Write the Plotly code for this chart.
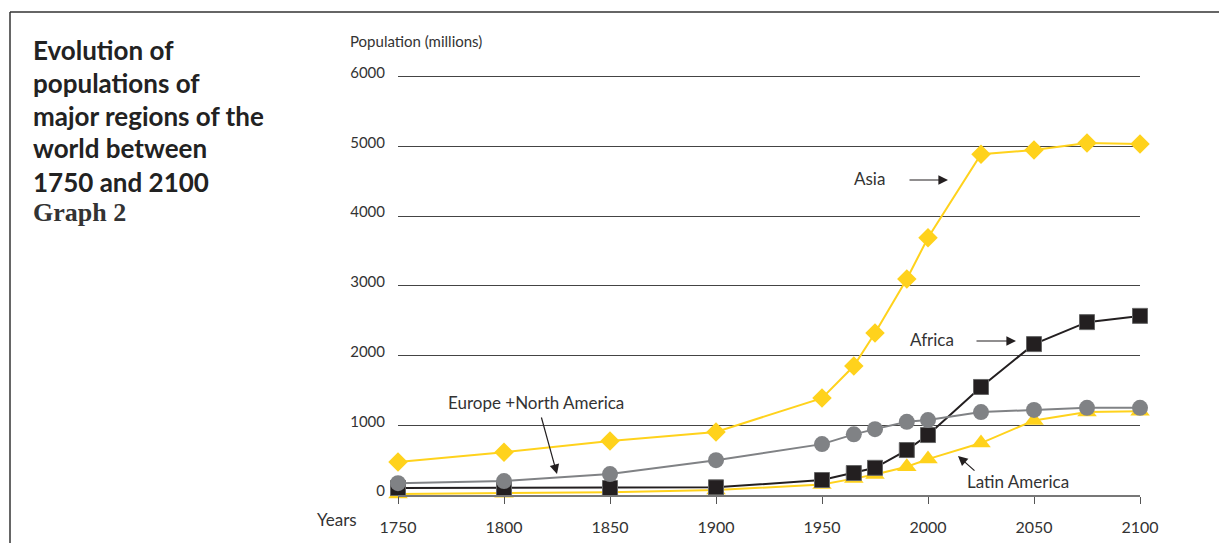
import plotly.graph_objects as go

# Population by major region, millions
years = [1750, 1800, 1850, 1900, 1950, 1965, 1975, 1990, 2000, 2025, 2050, 2075, 2100]
asia = [475, 615, 775, 905, 1390, 1850, 2325, 3100, 3690, 4890, 4950, 5050, 5035]
africa = [100, 100, 100, 110, 215, 315, 390, 645, 860, 1550, 2165, 2480, 2570]
europe_na = [170, 200, 300, 500, 730, 870, 945, 1050, 1075, 1190, 1220, 1250, 1250]
latin_america = [15, 24, 38, 70, 150, 235, 295, 405, 515, 745, 1070, 1190, 1200]

x_ticks = [1750, 1800, 1850, 1900, 1950, 2000, 2050, 2100]
y_ticks = [0, 1000, 2000, 3000, 4000, 5000, 6000]

YELLOW = "#FFD21C"
BLACK = "#231F20"
GREY = "#808285"
TEXT = "#333333"
FONT = "Lato"

W, H = 1219, 543
Y_TOP = 6040                      # a little headroom so the 6000 gridline is drawn
L, R, B = 398, 1140, 495
PX_PER_UNIT = 418 / 6000
T = round(B - Y_TOP * PX_PER_UNIT)


def px(x):
    return (x - L) / (R - L)


def py(y):
    return (B - y) / (B - T)


fig = go.Figure()

fig.add_trace(go.Scatter(
    x=years, y=latin_america, mode="lines+markers", name="Latin America",
    line=dict(color=YELLOW, width=2),
    marker=dict(symbol="triangle-up", size=17, color=YELLOW),
    cliponaxis=False))
fig.add_trace(go.Scatter(
    x=years, y=africa, mode="lines+markers", name="Africa",
    line=dict(color=BLACK, width=2),
    marker=dict(symbol="square", size=15, color=BLACK, line=dict(color="#666", width=1)),
    cliponaxis=False))
fig.add_trace(go.Scatter(
    x=years, y=europe_na, mode="lines+markers", name="Europe +North America",
    line=dict(color=GREY, width=2),
    marker=dict(symbol="circle", size=16, color=GREY),
    cliponaxis=False))
fig.add_trace(go.Scatter(
    x=years, y=asia, mode="lines+markers", name="Asia",
    line=dict(color=YELLOW, width=2),
    marker=dict(symbol="diamond", size=15, color=YELLOW),
    cliponaxis=False))

annotations = []

# Heading block
title_lines = ["Evolution of", "populations of", "major regions of the",
               "world between", "1750 and 2100"]
title_y = [50, 83, 116, 148, 182]
for line, y in zip(title_lines, title_y):
    annotations.append(dict(
        text=line, x=px(31), y=py(y), xref="paper", yref="paper",
        xanchor="left", yanchor="middle", showarrow=False,
        font=dict(family=FONT, size=26, color="#222", weight="bold")))
annotations.append(dict(
    text="Graph 2", x=px(31), y=py(212), xref="paper", yref="paper",
    xanchor="left", yanchor="middle", showarrow=False,
    font=dict(family="Liberation Serif", size=26, color="#333", weight="bold")))

# Axis captions
annotations.append(dict(
    text="Population (millions)", x=px(348), y=py(41), xref="paper", yref="paper",
    xanchor="left", yanchor="middle", showarrow=False,
    font=dict(family=FONT, size=15, color=TEXT)))
annotations.append(dict(
    text="Years", x=px(359), y=py(519), xref="paper", yref="paper",
    xanchor="right", yanchor="middle", showarrow=False,
    font=dict(family=FONT, size=17, color=TEXT)))

# Series labels
labels = [
    ("Asia", 852, 178),
    ("Africa", 908, 339),
    ("Europe +North America", 446, 402),
    ("Latin America", 965, 481),
]
for text, x, y in labels:
    annotations.append(dict(
        text=text, x=px(x), y=py(y), xref="paper", yref="paper",
        xanchor="left", yanchor="middle", showarrow=False,
        font=dict(family=FONT, size=17, color=TEXT)))

# Pointer arrows: (head x, head y, tail x, tail y) in pixels
arrows = [
    (948, 180, 908, 180),
    (1016, 341, 975, 341),
    (557, 474, 541, 416),
    (958, 456, 976, 472),
]
for hx, hy, tx, ty in arrows:
    annotations.append(dict(
        text="", x=px(hx), y=py(hy), xref="paper", yref="paper",
        ax=tx - hx, ay=ty - hy, showarrow=True,
        arrowhead=2, arrowsize=1.6, arrowwidth=1.2, arrowcolor=BLACK))

# Frame around the figure
shapes = [
    dict(type="line", xref="paper", yref="paper",
         x0=px(10), y0=py(12), x1=px(1230), y1=py(12),
         line=dict(color="#333", width=1.5)),
    dict(type="line", xref="paper", yref="paper",
         x0=px(10), y0=py(12), x1=px(10), y1=py(560),
         line=dict(color="#333", width=1.5)),
]

fig.update_layout(
    width=W, height=H,
    margin=dict(l=L, r=W - R, t=T, b=H - B, pad=0, autoexpand=False),
    paper_bgcolor="white", plot_bgcolor="white",
    showlegend=False,
    annotations=annotations,
    shapes=shapes,
    xaxis=dict(
        range=[1750, 2100], tickmode="array", tickvals=x_ticks,
        ticks="outside", ticklen=7, tickwidth=1.2, tickcolor="#555",
        showgrid=False, zeroline=False, automargin=False,
        showline=True, linecolor="#777", linewidth=1.5,
        ticklabelstandoff=10,
        tickfont=dict(family=FONT, size=16, color=TEXT)),
    yaxis=dict(
        range=[0, Y_TOP], tickmode="array", tickvals=y_ticks,
        showgrid=True, gridcolor="#444", gridwidth=1,
        zeroline=False, showline=False, ticks="", automargin=False,
        ticklabelstandoff=12, ticklabelshift=-4,
        tickfont=dict(family=FONT, size=15, color=TEXT)),
)

fig.write_html("out.html")
